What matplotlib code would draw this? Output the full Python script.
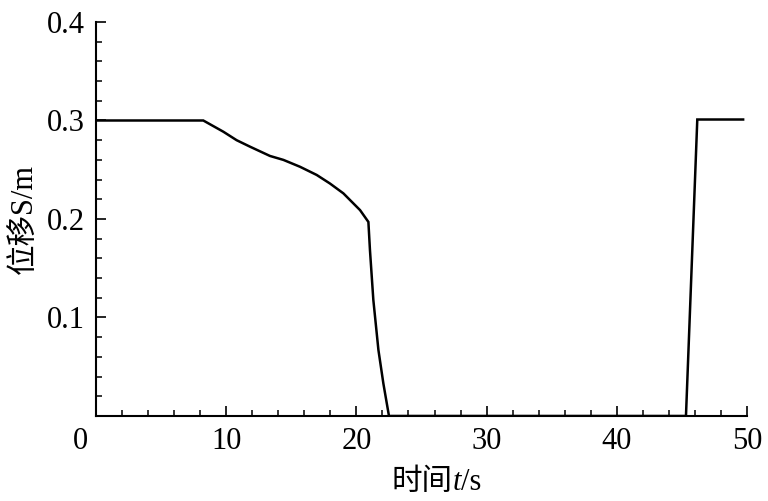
import numpy as np
import matplotlib
matplotlib.use('Agg')
import matplotlib.pyplot as plt
from matplotlib.ticker import MultipleLocator, FixedLocator
import matplotlib.transforms as mtransforms

plt.rcParams['font.family'] = ['Liberation Serif', 'Noto Sans CJK SC']

# displacement curve
t = [0, 8.24, 9.78, 10.8, 11.83, 13.36, 14.39, 15.67, 16.95, 17.97, 19.0, 20.28, 20.92,
     21.04, 21.3, 21.69, 22.07, 22.5, 45.31, 46.18, 49.7]
s = [0.3, 0.3, 0.2886, 0.280, 0.2734, 0.264, 0.260, 0.253, 0.2447, 0.236, 0.226, 0.209, 0.197,
     0.1685, 0.1178, 0.067, 0.033, 0.0, 0.0, 0.301, 0.301]

yticks = [0.1, 0.2, 0.3, 0.4]
ylabels = ['0.1', '0.2', '0.3', '0.4']
xticks = [0, 10, 20, 30, 40, 50]

fs = 22

fig = plt.figure(figsize=(7.68, 5.01), dpi=100)
ax = fig.add_axes([0.125, 0.1697, 0.8477, 0.7864])

ax.plot(t, s, color='black', lw=1.8, solid_joinstyle='miter')

ax.set_xlim(0, 50)
ax.set_ylim(0, 0.4)
ax.spines['top'].set_visible(False)
ax.spines['right'].set_visible(False)
ax.spines['left'].set_linewidth(1.5)
ax.spines['bottom'].set_linewidth(1.5)

ax.xaxis.set_major_locator(FixedLocator(xticks))
ax.xaxis.set_minor_locator(MultipleLocator(2))
ax.yaxis.set_major_locator(FixedLocator(yticks))
ax.set_yticklabels(ylabels)
ax.yaxis.set_minor_locator(MultipleLocator(0.02))

ax.tick_params(which='major', direction='in', length=7, width=1.2, labelsize=fs)
ax.tick_params(which='minor', direction='in', length=4, width=1.1)
ax.tick_params(axis='x', pad=8)
ax.tick_params(axis='y', pad=8)

# the "0" on x sits a bit left of the axis
lab0 = ax.get_xticklabels()[0]
lab0.set_transform(lab0.get_transform() + mtransforms.ScaledTranslation(-16/100, 0, fig.dpi_scale_trans))

ax.set_ylabel('位移S/m', fontsize=fs, labelpad=6)

# x label: 时间 t/s with italic t, pieced together on one baseline
fig.canvas.draw()
renderer = fig.canvas.get_renderer()
x0 = 392 / 768
y0 = 11 / 501
parts = [('时间', 'normal'), ('t', 'italic'), ('/s', 'normal')]
for txt, style in parts:
    tobj = fig.text(x0, y0, txt, fontsize=fs, style=style, ha='left', va='baseline')
    bb = tobj.get_window_extent(renderer)
    x0 = fig.transFigure.inverted().transform((bb.x1, 0))[0]

fig.savefig('out.png', dpi=100)
